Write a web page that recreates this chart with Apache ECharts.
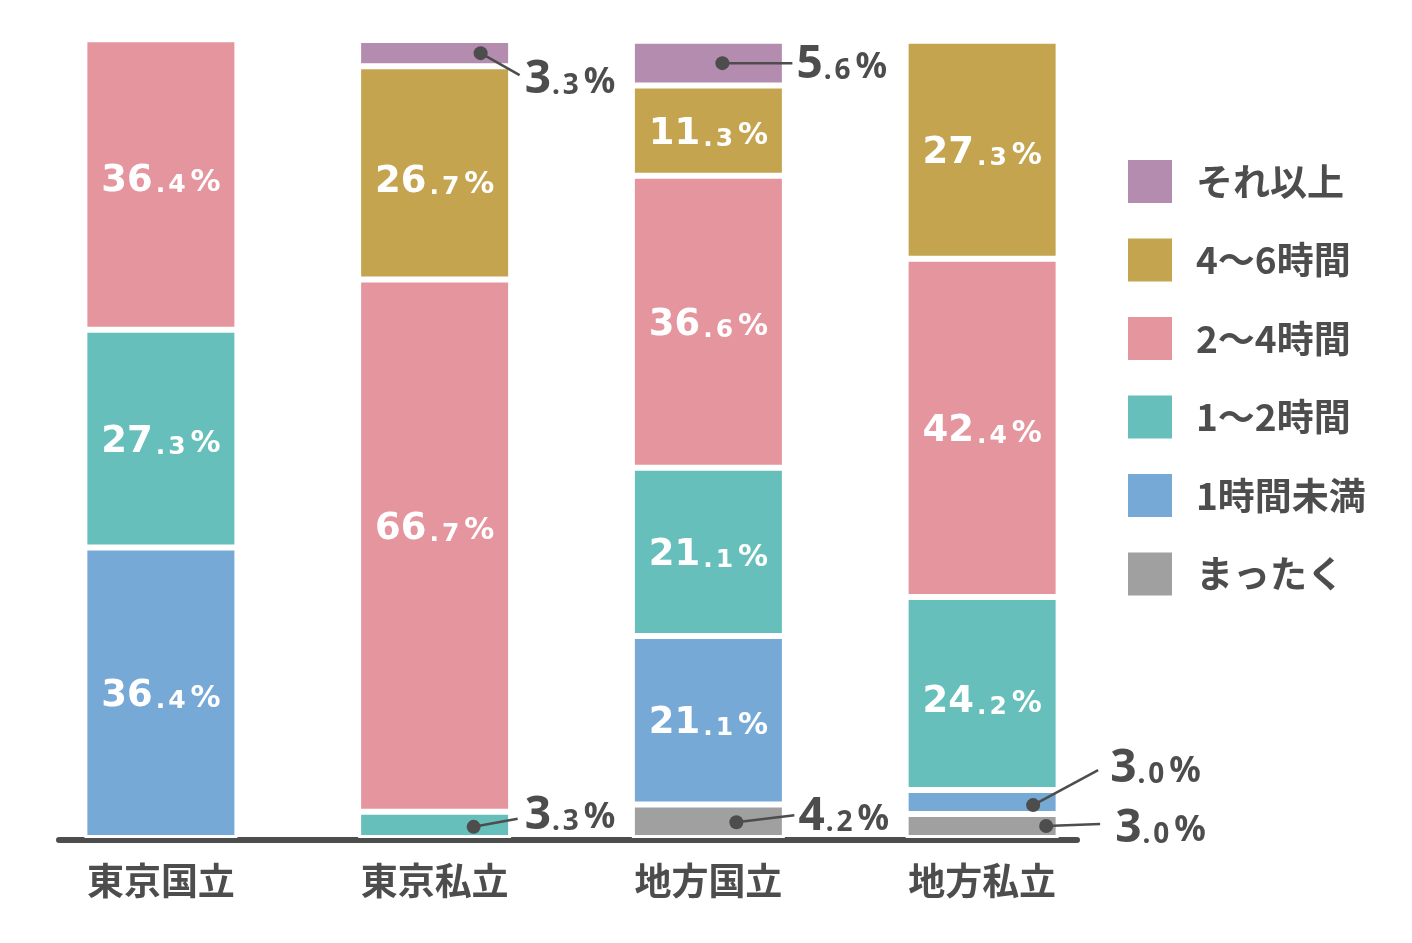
<!DOCTYPE html>
<html>
<head>
<meta charset="utf-8">
<script src="https://cdn.jsdelivr.net/npm/echarts@6/dist/echarts.min.js"></script>
<style>
html,body{margin:0;padding:0;background:#fff;}
#main{width:1412px;height:943px;}
</style>
</head>
<body>
<div id="main"></div>
<script>
const categories = ['東京国立', '東京私立', '地方国立', '地方私立'];
const seriesNames = ['まったく', '1時間未満', '1〜2時間', '2〜4時間', '4〜6時間', 'それ以上'];
const valsNone   = [0, 0, 4.2, 3.0];
const valsUnder1 = [36.4, 0, 21.1, 3.0];
const vals1to2   = [27.3, 3.3, 21.1, 24.2];
const vals2to4   = [36.4, 66.7, 36.6, 42.4];
const vals4to6   = [0, 26.7, 11.3, 27.3];
const valsMore   = [0, 3.3, 5.6, 0];

const allVals = [valsNone, valsUnder1, vals1to2, vals2to4, vals4to6, valsMore];
const colors = ['#a0a0a0', '#76a9d6', '#66bfbb', '#e5959e', '#c4a44e', '#b48caf'];
const legendOrder = seriesNames.slice().reverse();

// label placement tweaks (pixels), keyed "series-category"
const insideShift = {'3-0': -7, '4-1': 6, '3-1': -20, '2-3': 5};
const calloutStyle = {
  '5-1': {dx: 46, dy: 0, ex: 85, ey: 22, tx: 90, ty: 24},
  '2-1': {dx: 39, dy: 2, ex: 83, ey: -6, tx: 90, ty: -12},
  '5-2': {dx: 14, dy: 0, ex: 84, ey: 0, tx: 88, ty: -1},
  '0-2': {dx: 28, dy: 1, ex: 86, ey: -6, tx: 90, ty: -7},
  '1-3': {dx: 51, dy: 3, ex: 116, ey: -32, tx: 128, ty: -36},
  '0-3': {dx: 64, dy: 0, ex: 118, ey: -2, tx: 133, ty: 0}
};

function splitVal(v) {
  const p = v.toFixed(1).split('.');
  return [p[0], p[1]];
}
function richText(v) {
  const s = splitVal(v);
  return '{a|' + s[0] + '}{p|.}{b|' + s[1] + '}{c|%}';
}

const insideRich = {
  a: {fontFamily: 'DejaVu Sans', fontWeight: 'bold', fontSize: 37, color: '#fff', verticalAlign: 'bottom', lineHeight: 44},
  p: {fontFamily: 'DejaVu Sans', fontWeight: 'bold', fontSize: 25, color: '#fff', verticalAlign: 'bottom', lineHeight: 44, padding: [0, 0, 1, 3]},
  b: {fontFamily: 'DejaVu Sans', fontWeight: 'bold', fontSize: 25, color: '#fff', verticalAlign: 'bottom', lineHeight: 44, padding: [0, 0, 1, 3]},
  c: {fontFamily: 'DejaVu Sans', fontWeight: 'bold', fontSize: 30, color: '#fff', verticalAlign: 'bottom', lineHeight: 44, padding: [0, 0, 1, 5]}
};
const outsideRich = {
  a: {fontFamily: 'Noto Sans', fontWeight: 'bold', fontSize: 46, fill: '#4d4d4d', verticalAlign: 'bottom', lineHeight: 52},
  p: {fontFamily: 'Noto Sans', fontWeight: 'bold', fontSize: 28, fill: '#4d4d4d', verticalAlign: 'bottom', lineHeight: 52, padding: [0, 0, 3, 1]},
  b: {fontFamily: 'Noto Sans', fontWeight: 'bold', fontSize: 28, fill: '#4d4d4d', verticalAlign: 'bottom', lineHeight: 52, padding: [0, 0, 3, 3]},
  c: {fontFamily: 'Noto Sans', fontWeight: 'bold', fontSize: 35, fill: '#4d4d4d', verticalAlign: 'bottom', lineHeight: 52, padding: [0, 0, 3, 5]}
};

const barSeries = seriesNames.map((name, si) => ({
  name: name,
  type: 'bar',
  stack: 'total',
  xAxisIndex: 0,
  yAxisIndex: 0,
  barWidth: 153,
  itemStyle: {color: colors[si], borderColor: '#fff', borderWidth: 3},
  label: {
    show: true,
    position: 'inside',
    formatter: function (p) {
      const v = p.value;
      if (v == null || v < 8) return '';
      return richText(v);
    },
    rich: insideRich
  },
  emphasis: {disabled: true},
  data: allVals[si].map((v, ci) => {
    if (!(v > 0)) return null;
    const sh = insideShift[si + '-' + ci];
    return sh ? {value: v, label: {offset: [0, sh]}} : v;
  })
}));

// callouts for small segments, computed from data
const calloutData = [];
seriesNames.forEach((name, si) => {
  categories.forEach((c, ci) => {
    const v = allVals[si][ci];
    if (v > 0 && v < 8) {
      let base = 0;
      for (let k = 0; k < si; k++) base += allVals[k][ci];
      calloutData.push([ci, base + v / 2, v, si]);
    }
  });
});

const calloutSeries = {
  type: 'custom',
  xAxisIndex: 0,
  yAxisIndex: 0,
  silent: true,
  z: 10,
  data: calloutData,
  renderItem: function (params, api) {
    const ci = api.value(0);
    const mid = api.value(1);
    const v = api.value(2);
    const si = api.value(3);
    const st = calloutStyle[si + '-' + ci] || {dx: 40, dy: 0, ex: 85, ey: 0, tx: 88, ty: 0};
    const pt = api.coord([ci, mid]);
    return {
      type: 'group',
      children: [
        {type: 'line', shape: {x1: pt[0] + st.dx, y1: pt[1] + st.dy, x2: pt[0] + st.ex, y2: pt[1] + st.ey},
         style: {stroke: '#4d4d4d', lineWidth: 2.5}},
        {type: 'circle', shape: {cx: pt[0] + st.dx, cy: pt[1] + st.dy, r: 7},
         style: {fill: '#4d4d4d'}},
        {type: 'text', x: pt[0] + st.tx, y: pt[1] + st.ty,
         style: {text: richText(v), rich: outsideRich, fill: '#4d4d4d', align: 'left', verticalAlign: 'middle'}}
      ]
    };
  }
};

const chart = echarts.init(document.getElementById('main'), null, {renderer: 'canvas'});
chart.setOption({
  animation: false,
  backgroundColor: '#fff',
  legend: {
    data: legendOrder,
    orient: 'vertical',
    left: 1128,
    top: 160,
    padding: 0,
    itemWidth: 44,
    itemHeight: 43,
    itemGap: 35.5,
    icon: 'rect',
    selectedMode: false,
    itemStyle: {borderWidth: 0},
    textStyle: {fontFamily: 'Noto Sans CJK JP', fontWeight: 'bold', fontSize: 37, color: '#4d4d4d', padding: [0, 0, 0, 19]}
  },
  grid: [
    {left: 24, right: 293, top: 40, bottom: 105, containLabel: false},
    {left: 59, right: 335, top: 40, bottom: 103, containLabel: false}
  ],
  xAxis: [
    {
      type: 'category', gridIndex: 0, data: categories,
      axisLine: {show: false}, axisTick: {show: false},
      axisLabel: {fontFamily: 'Noto Sans CJK JP', fontWeight: 'bold', fontSize: 37, color: '#4d4d4d', margin: 24}
    },
    {
      type: 'value', gridIndex: 1, min: 0, max: 1,
      axisLine: {show: true, onZero: false, lineStyle: {color: '#4d4d4d', width: 6, cap: 'round'}},
      axisTick: {show: false}, axisLabel: {show: false}, splitLine: {show: false}
    }
  ],
  yAxis: [
    {type: 'value', gridIndex: 0, min: 0, max: 100, show: false, splitLine: {show: false}},
    {type: 'value', gridIndex: 1, min: 0, max: 1, show: false, splitLine: {show: false}}
  ],
  series: barSeries.concat([calloutSeries])
});
</script>
</body>
</html>
